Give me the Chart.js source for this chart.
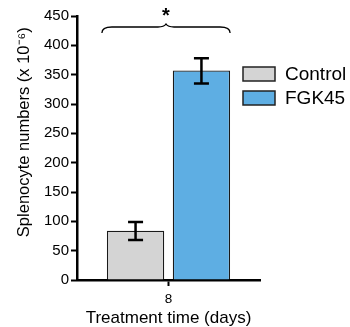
<!DOCTYPE html>
<html>
<head>
<meta charset="utf-8">
<script src="https://cdn.jsdelivr.net/npm/chart.js@4"></script>
<style>
  html, body { margin:0; padding:0; background:#fff; }
  #wrap { width:350px; height:327px; }
</style>
</head>
<body>
<div id="wrap"><canvas id="c" width="350" height="327"></canvas></div>
<script>
/* data */
const categories  = ['8'];
const groupNames  = ['Control', 'FGK45'];
const meanValues  = [84, 357];
const errLow      = [68, 335];
const errHigh     = [99, 378];
const fillColors  = ['#d4d4d4', '#5eaee3'];
const yTicks      = [0, 50, 100, 150, 200, 250, 300, 350, 400, 450];
const yTitle      = 'Splenocyte numbers (x 10⁻⁶)';

const FONT = '"Liberation Sans", Arial, sans-serif';

/* error bars, significance brace, y title and legend */
const extras = {
  id: 'extras',
  afterDatasetsDraw(chart) {
    const ctx = chart.ctx, y = chart.scales.y, area = chart.chartArea;
    const bars = [];
    chart.data.datasets.forEach((ds, i) => {
      const el = chart.getDatasetMeta(i).data[0];
      bars.push(el);
      const yl = y.getPixelForValue(errLow[i]), yh = y.getPixelForValue(errHigh[i]);
      ctx.save();
      ctx.strokeStyle = '#000'; ctx.lineWidth = 2.5;
      ctx.beginPath();
      ctx.moveTo(el.x, yl); ctx.lineTo(el.x, yh);
      ctx.moveTo(el.x - 7.5, yl); ctx.lineTo(el.x + 7.5, yl);
      ctx.moveTo(el.x - 7.5, yh); ctx.lineTo(el.x + 7.5, yh);
      ctx.stroke();
      ctx.restore();
    });

    // brace over both bars
    const L = bars[0].x - bars[0].width / 2 - 5;
    const R = bars[1].x + bars[1].width / 2;
    const M = (L + R) / 2;
    const y0 = area.top + 11;
    ctx.save();
    ctx.strokeStyle = '#000'; ctx.lineWidth = 1.3;
    ctx.beginPath();
    ctx.moveTo(L, y0 + 6);
    ctx.quadraticCurveTo(L, y0, L + 10, y0);
    ctx.lineTo(M - 8, y0);
    ctx.quadraticCurveTo(M - 2, y0, M, y0 - 3);
    ctx.quadraticCurveTo(M + 2, y0, M + 8, y0);
    ctx.lineTo(R - 10, y0);
    ctx.quadraticCurveTo(R, y0, R, y0 + 6);
    ctx.stroke();
    ctx.fillStyle = '#000';
    ctx.font = 'bold 20px ' + FONT;
    ctx.textAlign = 'center'; ctx.textBaseline = 'middle';
    ctx.fillText('*', M, area.top);
    ctx.restore();

    // y axis title (sits a little above the plot centre in the original)
    ctx.save();
    ctx.translate(24, y.getPixelForValue(252));
    ctx.rotate(-Math.PI / 2);
    ctx.fillStyle = '#000';
    ctx.font = '16.5px ' + FONT;
    ctx.textAlign = 'center'; ctx.textBaseline = 'middle';
    ctx.fillText(yTitle, 0, 0);
    ctx.restore();

    // legend to the right of plot
    ctx.save();
    groupNames.forEach((name, i) => {
      const bx = area.right - 17, by = area.top + 51 + i * 24;
      ctx.fillStyle = fillColors[i];
      ctx.fillRect(bx, by, 32, 14);
      ctx.strokeStyle = '#222'; ctx.lineWidth = 1.5;
      ctx.strokeRect(bx, by, 32, 14);
      ctx.fillStyle = '#000';
      ctx.font = '19px ' + FONT;
      ctx.textAlign = 'left'; ctx.textBaseline = 'middle';
      ctx.fillText(name, bx + 42, by + 8);
    });
    ctx.restore();
  }
};

new Chart(document.getElementById('c'), {
  type: 'bar',
  data: {
    labels: categories,
    datasets: groupNames.map((name, i) => ({
      label: name,
      data: [meanValues[i]],
      backgroundColor: fillColors[i],
      borderColor: '#1a1a1a',
      borderWidth: 1.3,
      categoryPercentage: 0.72,
      barPercentage: 0.87,
    })),
  },
  options: {
    responsive: false,
    animation: false,
    devicePixelRatio: 1,
    layout: { padding: { top: 16, right: 90, bottom: 1, left: 4 } },
    plugins: { legend: { display: false }, tooltip: { enabled: false } },
    scales: {
      x: {
        afterFit: s => { s.height = 46; },
        grid: { display: true, offset: false, drawOnChartArea: false, drawTicks: true,
                tickLength: 6, tickWidth: 2, tickColor: '#000' },
        border: { display: true, color: '#000', width: 2.5 },
        ticks: { color: '#000', font: { family: FONT, size: 13.5 }, padding: 5 },
        title: { display: true, text: 'Treatment time (days)', color: '#000',
                 font: { family: FONT, size: 17 }, padding: { top: 0, bottom: -3 } },
      },
      y: {
        min: 0, max: 450,
        afterBuildTicks: s => { s.ticks = yTicks.map(v => ({ value: v })); },
        afterFit: s => { s.width = 73; },
        grid: { display: true, drawOnChartArea: false, drawTicks: true,
                tickLength: 6, tickWidth: 2, tickColor: '#000' },
        border: { display: true, color: '#000', width: 2.5 },
        ticks: { color: '#000', font: { family: FONT, size: 15 }, padding: 2 },
        title: { display: false },
      },
    },
  },
  plugins: [extras],
});
</script>
</body>
</html>
